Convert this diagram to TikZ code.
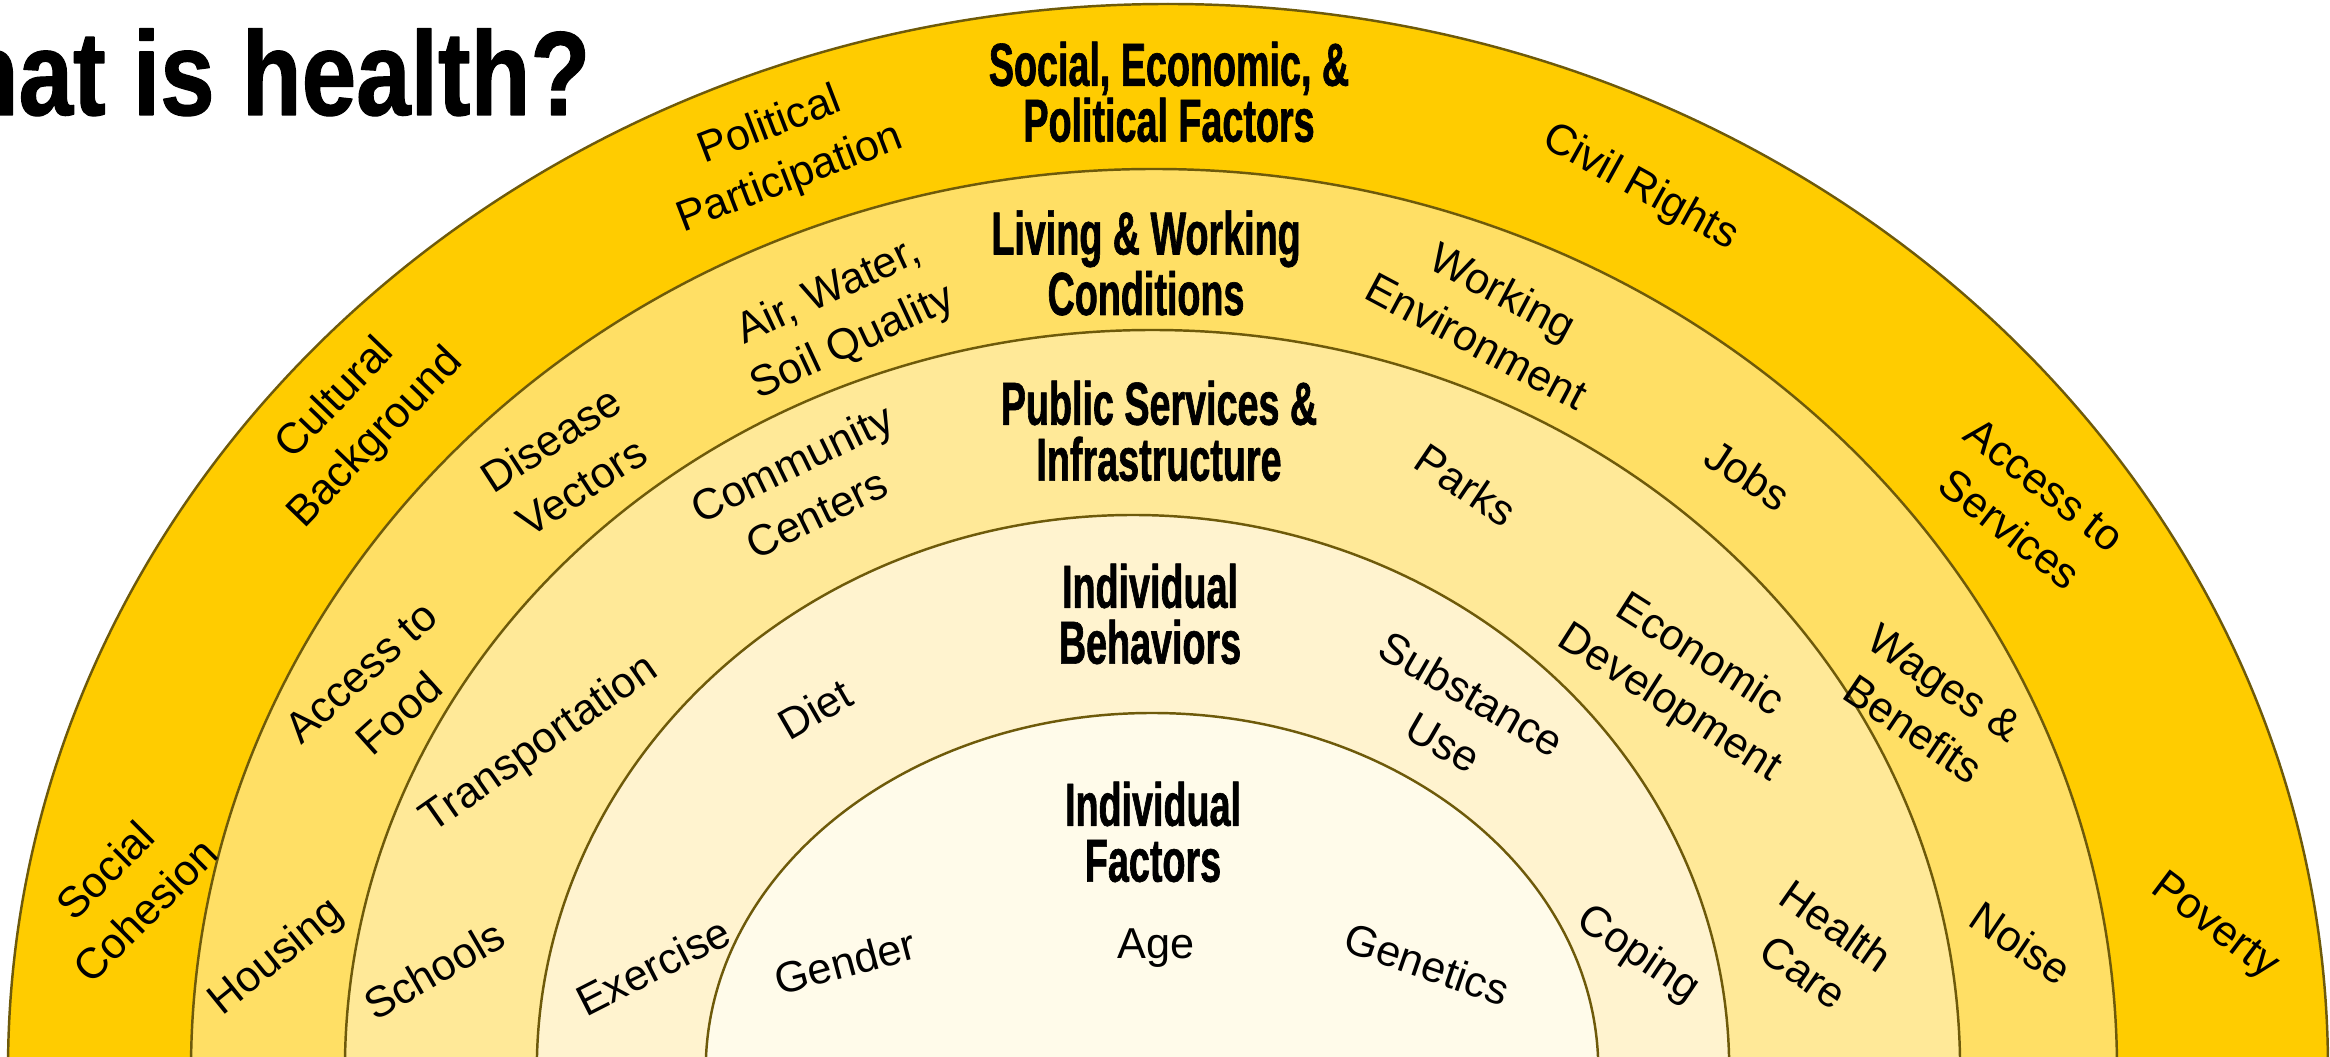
\documentclass[tikz,border=0pt]{standalone}
\usepackage{fontspec}
\setmainfont{Liberation Sans}
\newfontfamily\headfont[FakeStretch=0.62,FakeBold=1]{Liberation Sans}
\newfontfamily\titlefont[FakeStretch=0.82,FakeBold=1]{Liberation Sans}
\definecolor{ringA}{HTML}{FFCC00}
\definecolor{ringB}{HTML}{FFDF65}
\definecolor{ringC}{HTML}{FFE998}
\definecolor{ringD}{HTML}{FFF3CF}
\definecolor{ringE}{HTML}{FFFBEA}
\definecolor{rim}{HTML}{6E5A0A}
\begin{document}
\begin{tikzpicture}[line join=round, line cap=round,
	band/.style={draw=rim, line width=0.7pt},
	lbl/.style={font=\fontsize{12.3}{16}\selectfont, align=center, inner sep=0pt},
	head/.style={font=\headfont\bfseries\fontsize{17.3}{15.9}\selectfont, align=center, inner sep=0pt}]
	\useasboundingbox (0,0) rectangle (23.30,10.57);
	\clip (0,0) rectangle (23.30,10.57);
	% rings, outside in
	\draw[band, fill=ringA] (11.68,-0.13) ellipse [x radius=11.60, y radius=10.66];
	\draw[band, fill=ringB] (11.54,-0.13) ellipse [x radius=9.63, y radius=9.01];
	\draw[band, fill=ringC] (11.525,-0.13) ellipse [x radius=8.076, y radius=7.40];
	\draw[band, fill=ringD] (11.33,-0.13) ellipse [x radius=5.962, y radius=5.55];
	\draw[band, fill=ringE] (11.52,-0.13) ellipse [x radius=4.463, y radius=3.57];
	\node[anchor=base east, inner sep=0pt, font=\titlefont\bfseries\fontsize{34}{34}\selectfont] (title) at (5.91,9.42) {What is health?};
	% headings
	\node[head] (hsoc) at (11.69,9.65) {Social, Economic, \&\\Political Factors};
	\node[head] (hliv) at (11.46,7.94) {Living \& Working\\Conditions};
	\node[head] (hpub) at (11.59,6.26) {Public Services \&\\Infrastructure};
	\node[head] (hbeh) at (11.50,4.43) {Individual\\Behaviors};
	\node[head] (hfac) at (11.53,2.25) {Individual\\Factors};
	% social, economic, political
	\node[lbl, rotate=21] (polpart) at (7.80,9.04) {Political\\Participation};
	\node[lbl, rotate=-29] (civil) at (16.40,8.69) {Civil Rights};
	\node[lbl, rotate=46] (cultural) at (3.56,6.38) {Cultural\\Background};
	\node[lbl, rotate=-38] (services) at (20.27,5.50) {Access to\\Services};
	\node[lbl, rotate=45] (cohesion) at (1.25,1.67) {Social\\Cohesion};
	\node[lbl, rotate=-37] (poverty) at (22.14,1.30) {Poverty};
	% living and working
	\node[lbl, rotate=25] (airwater) at (8.41,7.39) {Air, Water,\\Soil Quality};
	\node[lbl, rotate=-28] (workenv) at (14.90,7.41) {Working\\Environment};
	\node[lbl, rotate=33] (vectors) at (5.66,5.94) {Disease\\Vectors};
	\node[lbl, rotate=-33] (jobs) at (17.48,5.82) {Jobs};
	\node[lbl, rotate=42] (food) at (3.80,3.64) {Access to\\Food};
	\node[lbl, rotate=-34] (wages) at (19.29,3.51) {Wages \&\\Benefits};
	\node[lbl, rotate=39] (housing) at (2.77,0.99) {Housing};
	\node[lbl, rotate=-34] (noise) at (20.21,1.14) {Noise};
	% public services
	\node[lbl, rotate=26] (centers) at (8.04,5.69) {Community\\Centers};
	\node[lbl, rotate=-34] (parks) at (14.66,5.72) {Parks};
	\node[lbl, rotate=35] (transport) at (5.40,3.12) {Transportation};
	\node[lbl, rotate=-32.5] (econ) at (16.84,3.77) {Economic\\Development};
	\node[lbl, rotate=30] (schools) at (4.34,0.87) {Schools};
	\node[lbl, rotate=-35] (health) at (18.20,1.08) {Health\\Care};
	% behaviors
	\node[lbl, rotate=30] (diet) at (8.15,3.48) {Diet};
	\node[lbl, rotate=-30] (substance) at (14.58,3.39) {Substance\\Use};
	\node[lbl, rotate=27] (exercise) at (6.53,0.91) {Exercise};
	\node[lbl, rotate=-34] (coping) at (16.38,1.02) {Coping};
	% factors
	\node[lbl, rotate=15] (gender) at (8.45,0.95) {Gender};
	\node[lbl] (age) at (11.56,1.09) {Age};
	\node[lbl, rotate=-19] (genetics) at (14.27,0.93) {Genetics};
\end{tikzpicture}
\end{document}
